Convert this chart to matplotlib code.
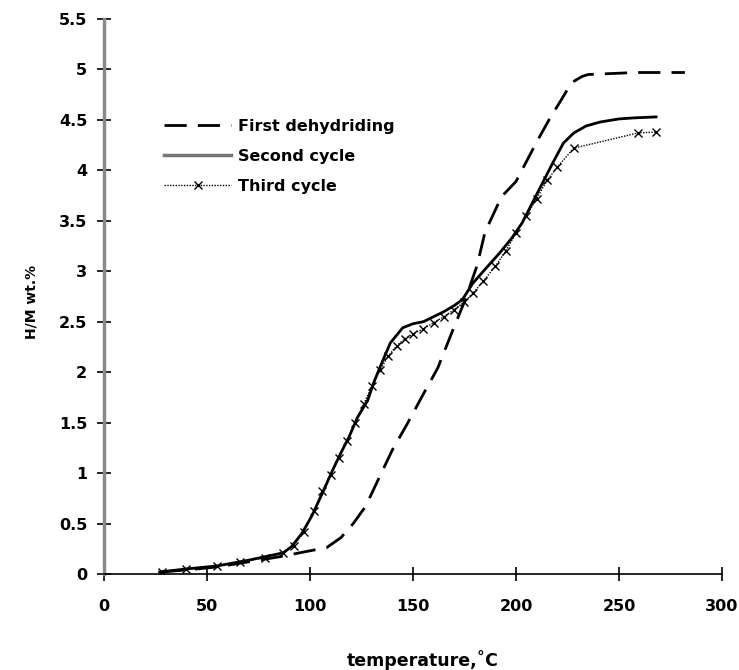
import matplotlib
matplotlib.use("Agg")
import matplotlib.pyplot as plt
from matplotlib.lines import Line2D

# readings (temperature in C, H/M wt.%)
first_x = [28, 40, 55, 70, 85, 95, 100, 108, 115, 121, 127, 133, 140, 147, 156,
           162, 169, 175, 181, 185, 193, 200, 210, 216, 222, 227, 232, 235, 258, 282]
first_y = [0.02, 0.04, 0.07, 0.12, 0.17, 0.21, 0.23, 0.26, 0.36, 0.50, 0.67, 0.93, 1.23, 1.48, 1.82,
           2.04, 2.40, 2.70, 3.05, 3.39, 3.74, 3.89, 4.28, 4.50, 4.70, 4.87, 4.93, 4.95, 4.97, 4.97]

second_x = [27, 40, 55, 71, 87, 91, 96, 101, 106, 111, 115, 119, 123, 128, 131, 134, 139, 145,
            150, 155, 160, 165, 170, 174, 179, 185, 192, 198, 203, 208, 213, 218, 223, 228,
            234, 241, 250, 257, 268]
second_y = [0.02, 0.05, 0.08, 0.14, 0.21, 0.27, 0.40, 0.58, 0.80, 1.03, 1.20, 1.36, 1.55, 1.72,
            1.90, 2.05, 2.29, 2.44, 2.48, 2.50, 2.55, 2.60, 2.66, 2.72, 2.88, 3.02, 3.18, 3.33,
            3.48, 3.68, 3.88, 4.08, 4.27, 4.37, 4.44, 4.48, 4.51, 4.52, 4.53]

third_x = [28, 40, 55, 66, 78, 87, 92, 97, 102, 106, 110, 114, 118, 122, 126, 130, 134, 138,
           142, 146, 150, 155, 160, 165, 170, 175, 179, 184, 190, 195, 200, 205, 210, 215,
           220, 228, 259, 268]
third_y = [0.02, 0.05, 0.08, 0.12, 0.16, 0.21, 0.28, 0.42, 0.62, 0.82, 0.98, 1.15, 1.32, 1.50,
           1.68, 1.86, 2.02, 2.16, 2.26, 2.33, 2.38, 2.43, 2.49, 2.55, 2.62, 2.70, 2.78, 2.90,
           3.05, 3.20, 3.38, 3.55, 3.72, 3.90, 4.03, 4.22, 4.37, 4.38]

x_ticks = [0, 50, 100, 150, 200, 250, 300]
y_ticks = [0, 0.5, 1, 1.5, 2, 2.5, 3, 3.5, 4, 4.5, 5, 5.5]
y_tick_labels = ["0", "0.5", "1", "1.5", "2", "2.5", "3", "3.5", "4", "4.5", "5", "5.5"]

plt.rcParams["font.family"] = "DejaVu Sans"
plt.rcParams["font.weight"] = "bold"

fig = plt.figure(figsize=(7.39, 6.70), dpi=100)
ax = fig.add_axes([0.1407, 0.1433, 0.8363, 0.8283])

ax.plot(first_x, first_y, color="black", lw=2.0, dashes=(8, 4))
ax.plot(second_x, second_y, color="black", lw=2.0)
ax.plot(third_x, third_y, color="black", lw=1.0, ls=(0, (1, 1)),
        marker="x", ms=6, mew=1.0)

ax.set_xlim(0, 300)
ax.set_ylim(0, 5.5)
ax.set_xticks(x_ticks)
ax.set_yticks(y_ticks)
ax.set_yticklabels(y_tick_labels)

for s in ["top", "right"]:
    ax.spines[s].set_visible(False)
ax.spines["left"].set_color("#8a8a8a")
ax.spines["left"].set_linewidth(2.5)
ax.spines["bottom"].set_color("black")
ax.spines["bottom"].set_linewidth(1.2)

ax.tick_params(axis="both", direction="inout", length=10, width=1.2, color="black",
               labelsize=11.5)
ax.tick_params(axis="x", pad=13)
ax.tick_params(axis="y", pad=7)

ax.set_xlabel("temperature,\u02daC", fontsize=12.5, fontweight="bold")
ax.xaxis.set_label_coords(0.516, -0.155)
ax.xaxis.label.set_va("center")
ax.set_ylabel("H/M wt.%", fontsize=10, fontweight="bold")
ax.yaxis.set_label_coords(-0.118, 0.49)
ax.yaxis.label.set_va("center")

handles = [
    Line2D([], [], color="black", lw=2.0, dashes=(8, 4)),
    Line2D([], [], color="#777777", lw=2.5),
    Line2D([], [], color="black", lw=1.0, ls=(0, (1, 1)), marker="x", ms=6, mew=1.0),
]
labels = ["First dehydriding", "Second cycle", "Third cycle"]
ax.legend(handles, labels, loc="upper left", bbox_to_anchor=(0.087, 0.832),
          frameon=False, fontsize=11.5, handlelength=4.2, handletextpad=0.4,
          labelspacing=0.94, borderaxespad=0)

fig.savefig("out.png", dpi=100)
